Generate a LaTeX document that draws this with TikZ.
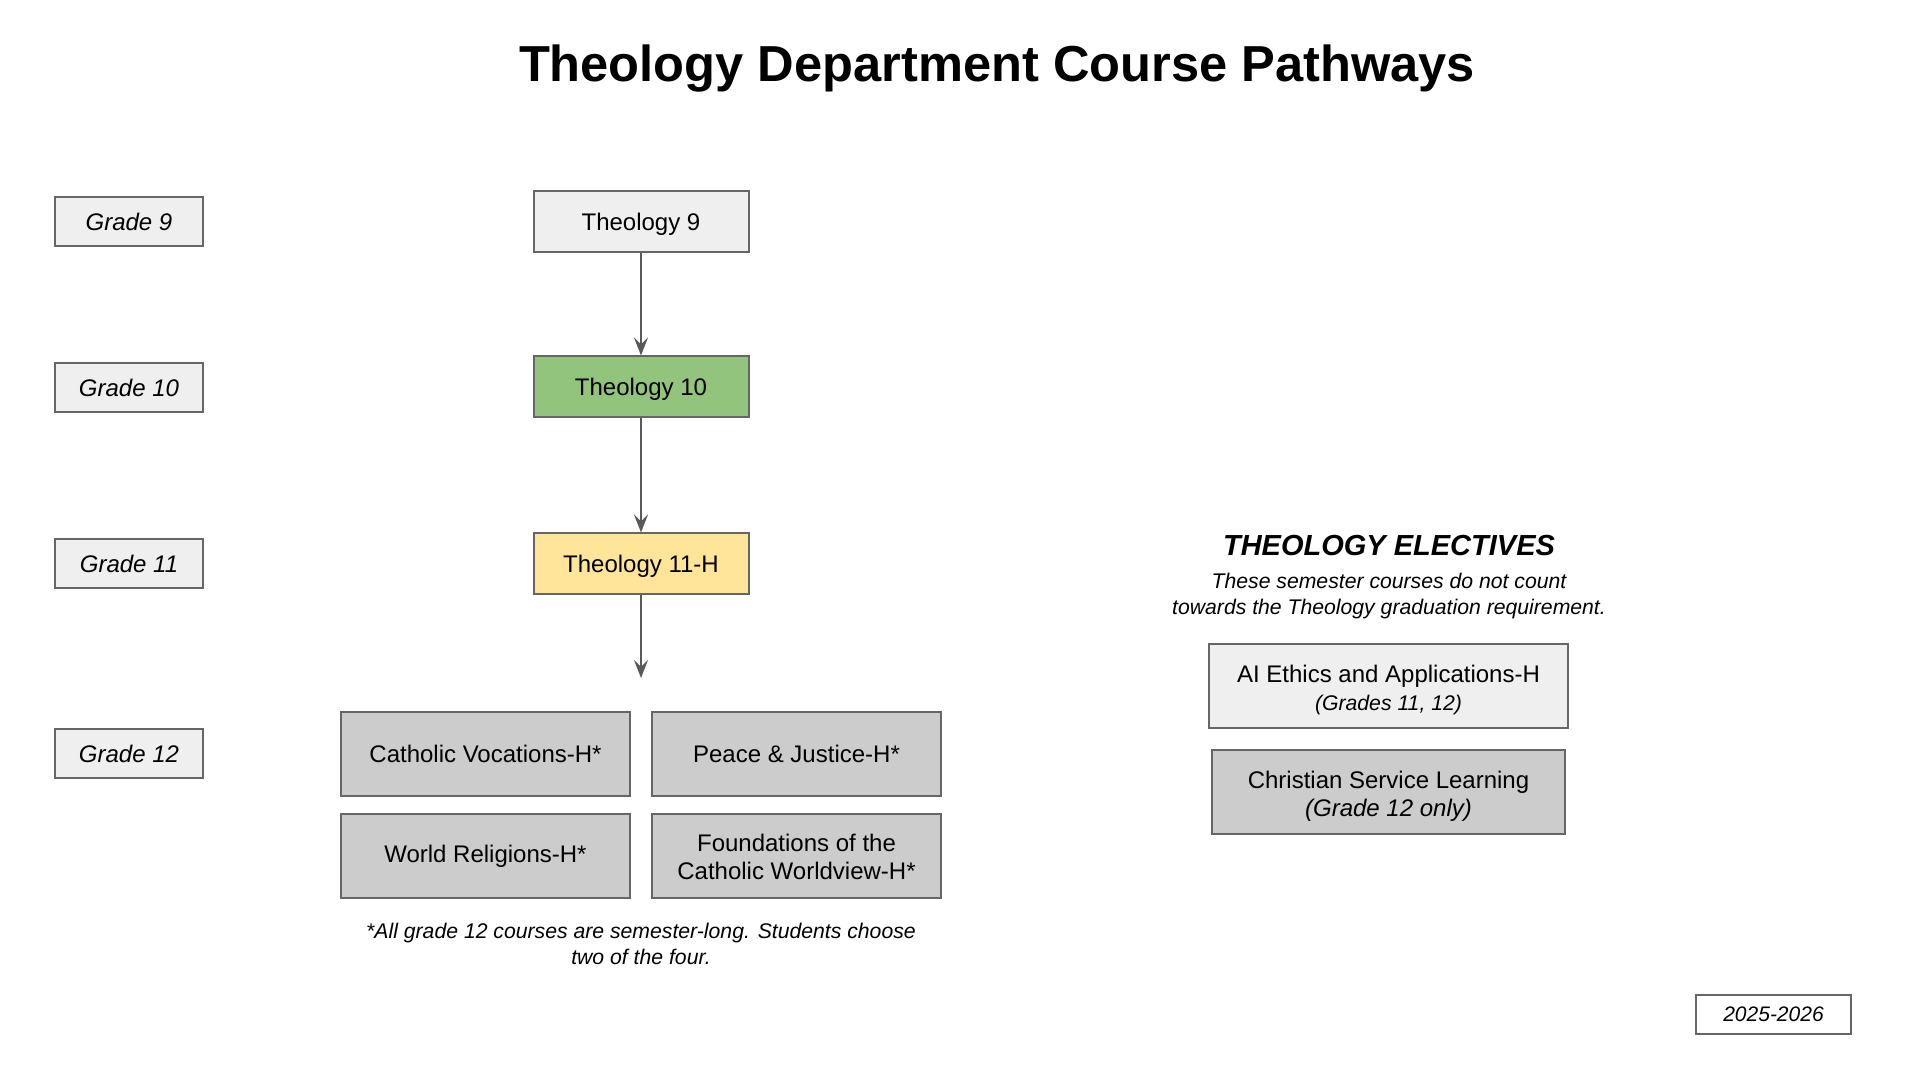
\documentclass[tikz,border=0pt]{standalone}
\usepackage{fontspec}
\setmainfont{Liberation Sans}
\usetikzlibrary{arrows.meta,positioning}
\definecolor{boxline}{HTML}{666666}
\definecolor{arrowgray}{HTML}{595959}
\definecolor{lightfill}{HTML}{EFEFEF}
\definecolor{seniorfill}{HTML}{CCCCCC}
\definecolor{tengreen}{HTML}{93C47D}
\definecolor{elevenyellow}{HTML}{FFE599}
\tikzset{
  gradebox/.style={draw=boxline,line width=1pt,fill=lightfill,minimum width=74pt,minimum height=24.5pt,inner sep=0pt,text height=8.6pt,text depth=0pt,font=\fontsize{12}{14}\selectfont\itshape},
  course/.style={draw=boxline,line width=1pt,minimum width=107.5pt,minimum height=30.5pt,inner sep=0pt,text height=8.6pt,text depth=0pt,font=\fontsize{12}{14}\selectfont},
  senior/.style={draw=boxline,line width=1pt,fill=seniorfill,minimum width=144.5pt,minimum height=42pt,inner sep=0pt,align=center,font=\fontsize{12}{12}\selectfont},
  elective/.style={draw=boxline,line width=1pt,minimum height=42pt,inner sep=0pt,align=center,font=\fontsize{12}{14}\selectfont},
  note/.style={align=center,font=\fontsize{10.6}{13}\selectfont\itshape},
  link/.style={->,draw=arrowgray,line width=1pt}
}

\begin{document}
\begin{tikzpicture}[x=0.5pt,y=-0.5pt,>={Stealth[length=9pt,width=7pt,inset=3.5pt]}]
  \useasboundingbox (0,0) rectangle (1919,1079);
  \node[font=\fontsize{25.3}{30}\selectfont\bfseries] (title) at (997,69) {Theology Department Course Pathways};
  % grade labels
  \node[gradebox] (g9) at (129,222) {Grade 9};
  \node[gradebox] (g10) at (129,388) {Grade 10};
  \node[gradebox] (g11) at (129,564) {Grade 11};
  \node[gradebox] (g12) at (129,754) {Grade 12};
  % required sequence
  \node[course,fill=lightfill] (t9) at (641,222) {Theology 9};
  \node[course,fill=tengreen] (t10) at (641,387) {Theology 10};
  \node[course,fill=elevenyellow] (t11) at (641,564) {Theology 11-H};
  \coordinate (t12) at (641,678);
  \draw[link] (t9) -- (t10);
  \draw[link] (t10) -- (t11);
  \draw[link] (t11) -- (t12);
  % grade 12 semester courses
  \node[senior] (cv) at (485.5,754) {Catholic Vocations-H*};
  \node[senior] (pj) at (796.5,754) {Peace \& Justice-H*};
  \node[senior] (wr) at (485.5,856) {World Religions-H*};
  \node[senior] (fw) at (796.5,856) {\rule{0pt}{10pt}Foundations of the\\[2pt]Catholic Worldview-H*};
  \node[note] (foot) at (641,944) {*All grade 12 courses are semester-long. Students choose\\two of the four.};
  % electives
  \node[font=\fontsize{14.5}{17}\selectfont\bfseries\itshape] (elec) at (1389,546) {THEOLOGY ELECTIVES};
  \node[note] (elecnote) at (1389,596.5) {These semester courses do not count\\towards the Theology graduation requirement.};
  \node[elective,fill=lightfill,minimum width=179.5pt] (ai) at (1388.5,686) {\rule{0pt}{12.6pt}AI Ethics and Applications-H\\{\fontsize{10.6}{12}\selectfont\itshape (Grades 11, 12)}};
  \node[elective,fill=seniorfill,minimum width=176.5pt] (csl) at (1388.5,792) {\rule{0pt}{12.6pt}Christian Service Learning\\{\itshape (Grade 12 only)}};
  \node[draw=boxline,line width=1pt,fill=white,minimum width=77.5pt,minimum height=19.5pt,inner sep=0pt,font=\fontsize{10.5}{12}\selectfont\itshape] (year) at (1773.5,1014.5) {2025-2026};
\end{tikzpicture}
\end{document}
